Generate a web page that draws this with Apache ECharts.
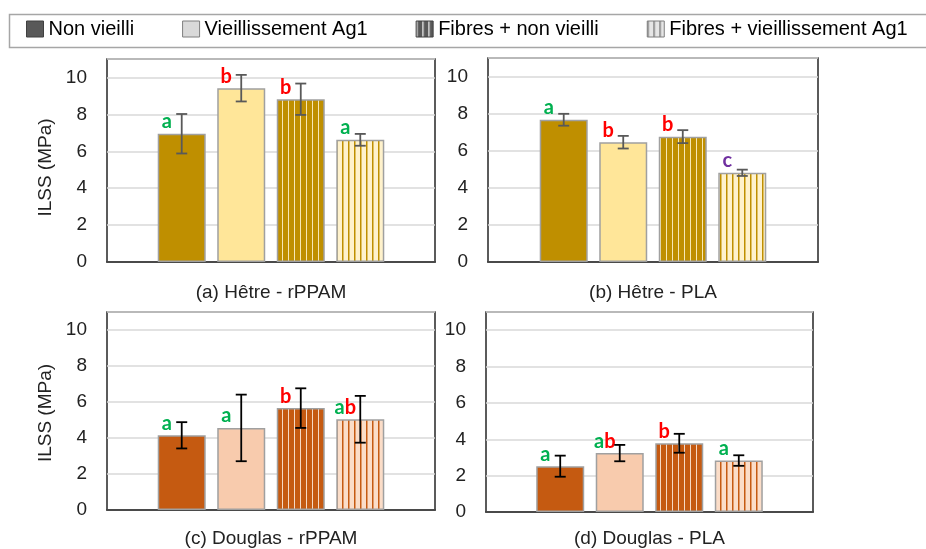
<!DOCTYPE html>
<html>
<head>
<meta charset="utf-8">
<script src="https://cdn.jsdelivr.net/npm/echarts@6/dist/echarts.min.js"></script>
<style>
  html, body { margin: 0; background: #fff; }
  #chart { width: 926px; height: 549px; }
</style>
</head>
<body>
<div id="chart"></div>
<script>
// legend / series names
var seriesNames = ["Non vieilli", "Vieillissement Ag1", "Fibres + non vieilli", "Fibres + vieillissement Ag1"];
var panelTitles = ["(a) Hêtre - rPPAM", "(b) Hêtre - PLA", "(c) Douglas - rPPAM", "(d) Douglas - PLA"];
var yMin = 0, yMax = 11, yStep = 2;

// ILSS moyen (MPa) et écart-type
var hetreRppam = [6.95, 9.42, 8.82, 6.62];
var hetreRppamErr = [1.07, 0.72, 0.85, 0.32];
var hetreRppamLetters = ["a", "b", "b", "a"];

var hetrePla = [7.67, 6.46, 6.76, 4.81];
var hetrePlaErr = [0.32, 0.34, 0.35, 0.17];
var hetrePlaLetters = ["a", "b", "b", "c"];

var douglasRppam = [4.15, 4.56, 5.66, 5.04];
var douglasRppamErr = [0.73, 1.85, 1.10, 1.30];
var douglasRppamLetters = ["a", "a", "b", "ab"];

var douglasPla = [2.52, 3.24, 3.78, 2.83];
var douglasPlaErr = [0.58, 0.45, 0.52, 0.29];
var douglasPlaLetters = ["a", "ab", "b", "a"];

function stripes(base, line, lw) {
  var c = document.createElement("canvas");
  c.width = 6; c.height = 4;
  var g = c.getContext("2d");
  g.fillStyle = base; g.fillRect(0, 0, 6, 4);
  g.fillStyle = line; g.fillRect(0, 0, lw, 4);
  return { image: c, repeat: "repeat" };
}

var woods = {
  hetre: {
    fills: ["#BF8F00", "#FFE699", stripes("#BF8F00", "#F7E7B5", 1), stripes("#FFF2CC", "#BF8F00", 1.5)],
    err: "#595959"
  },
  douglas: {
    fills: ["#C55A11", "#F8CBAD", stripes("#C55A11", "#F6D9C4", 1), stripes("#FBDDC8", "#C55A11", 1.5)],
    err: "#000000"
  }
};

var panels = [
  { mean: hetreRppam, err: hetreRppamErr, letters: hetreRppamLetters, wood: "hetre",
    grid: { left: 107, top: 59, width: 328, height: 203 }, nameGap: 21, yName: true, namePad: 14 },
  { mean: hetrePla, err: hetrePlaErr, letters: hetrePlaLetters, wood: "hetre",
    grid: { left: 488, top: 58, width: 330, height: 204 }, nameGap: 21, yName: false },
  { mean: douglasRppam, err: douglasRppamErr, letters: douglasRppamLetters, wood: "douglas",
    grid: { left: 107, top: 312, width: 328, height: 202 }, nameGap: 19, yName: true, namePad: 4 },
  { mean: douglasPla, err: douglasPlaErr, letters: douglasPlaLetters, wood: "douglas",
    grid: { left: 486, top: 312, width: 327, height: 204 }, nameGap: 17, yName: false }
];

var barWidth = 48;
var barGapRatio = 0.24;
var slotStep = barWidth * (1 + barGapRatio);
var font = "Liberation Sans";

var rich = {
  a: { color: "#00B050", fontWeight: "bold", fontSize: 20, fontFamily: "Lato" },
  b: { color: "#FF0000", fontWeight: "bold", fontSize: 20, fontFamily: "Lato" },
  c: { color: "#7030A0", fontWeight: "bold", fontSize: 20, fontFamily: "Lato" }
};

var grids = [], xAxes = [], yAxes = [], series = [];

panels.forEach(function (p, k) {
  var wood = woods[p.wood];
  grids.push(Object.assign({ show: true, borderColor: "#262626", borderWidth: 1.5 }, p.grid));
  xAxes.push({
    gridIndex: k, type: "category", data: [""],
    axisTick: { show: false }, axisLabel: { show: false },
    axisLine: { lineStyle: { color: "#262626", width: 1.5 } },
    name: panelTitles[k], nameLocation: "middle", nameGap: p.nameGap,
    nameTextStyle: { fontSize: 19, color: "#222", fontFamily: font }
  });
  yAxes.push({
    gridIndex: k, type: "value", min: yMin, max: yMax, interval: yStep,
    axisLine: { show: false }, axisTick: { show: false },
    axisLabel: {
      fontSize: 19, color: "#222", fontFamily: font, margin: 20,
      formatter: function (v) { return v % yStep === 0 ? String(v) : ""; }
    },
    splitLine: { lineStyle: { color: "#d9d9d9", width: 1.5 } },
    name: p.yName ? "ILSS (MPa)" : "", nameLocation: "middle", nameRotate: 90, nameGap: 52,
    nameTextStyle: { fontSize: 19, color: "#222", fontFamily: font, padding: [0, p.namePad || 0, 0, 0] }
  });

  seriesNames.forEach(function (name, i) {
    series.push({
      type: "bar", name: name, xAxisIndex: k, yAxisIndex: k,
      data: [p.mean[i]], barWidth: barWidth, barGap: (barGapRatio * 100) + "%",
      itemStyle: { color: wood.fills[i], borderColor: "#a0a0a0", borderWidth: 1.5 },
      label: {
        show: true, position: [9, -2], align: "center", verticalAlign: "bottom",
        formatter: function () {
          return p.letters[i].split("").map(function (ch) { return "{" + ch + "|" + ch + "}"; }).join("");
        },
        rich: rich
      },
      emphasis: { disabled: true }
    });
  });

  series.push({
    type: "custom", xAxisIndex: k, yAxisIndex: k, z: 10, silent: true,
    data: p.mean.map(function (m, i) { return [0, m - p.err[i], m + p.err[i], i]; }),
    encode: { x: 0, y: [1, 2] },
    renderItem: function (params, api) {
      var lo = api.coord([0, api.value(1)]);
      var hi = api.coord([0, api.value(2)]);
      var x = lo[0] + (api.value(3) - 1.5) * slotStep;
      var cap = 5.5;
      var st = { stroke: wood.err, lineWidth: 1.8 };
      return {
        type: "group",
        children: [
          { type: "line", shape: { x1: x, y1: hi[1], x2: x, y2: lo[1] }, style: st },
          { type: "line", shape: { x1: x - cap, y1: hi[1], x2: x + cap, y2: hi[1] }, style: st },
          { type: "line", shape: { x1: x - cap, y1: lo[1], x2: x + cap, y2: lo[1] }, style: st }
        ]
      };
    }
  });
});

var legendStyles = [
  { color: "#595959", borderColor: "#404040", borderWidth: 1 },
  { color: "#D9D9D9", borderColor: "#7f7f7f", borderWidth: 1 },
  { color: stripes("#595959", "#D9D9D9", 1.5), borderColor: "#404040", borderWidth: 1 },
  { color: stripes("#E6E6E6", "#7f7f7f", 1.5), borderColor: "#7f7f7f", borderWidth: 1 }
];

var myChart = echarts.init(document.getElementById("chart"));
myChart.setOption({
  animation: false,
  backgroundColor: "#fff",
  graphic: [{
    type: "rect", silent: true, z: -1,
    shape: { x: 9.5, y: 14.5, width: 940, height: 33 },
    style: { fill: "none", stroke: "#a6a6a6", lineWidth: 1.5 }
  }],
  legend: {
    data: seriesNames.map(function (n, i) { return { name: n, itemStyle: legendStyles[i] }; }),
    left: 26, top: 19, padding: 0, itemGap: 48, itemWidth: 17, itemHeight: 16,
    icon: "rect", selectedMode: false,
    textStyle: { fontSize: 20, color: "#000", fontFamily: font }
  },
  grid: grids,
  xAxis: xAxes,
  yAxis: yAxes,
  series: series
});
</script>
</body>
</html>
